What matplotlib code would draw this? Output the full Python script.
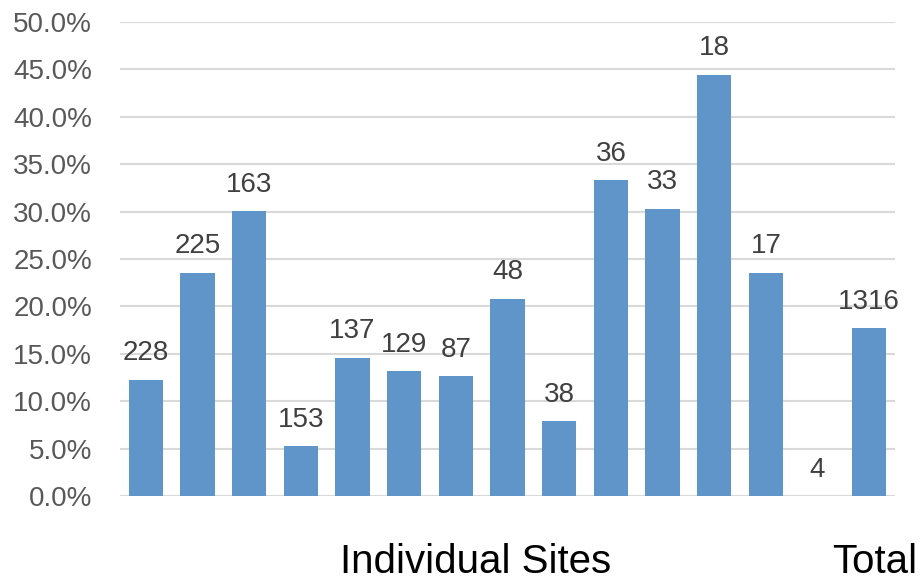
import matplotlib
matplotlib.use("Agg")
import matplotlib.pyplot as plt
from matplotlib.ticker import PercentFormatter

# share of each site, plus the pooled total
sites = ["1", "2", "3", "4", "5", "6", "7", "8", "9", "10", "11", "12", "13", "14", "Total"]
counts = [228, 225, 163, 153, 137, 129, 87, 48, 38, 36, 33, 18, 17, 4, 1316]
rates = [0.1228, 0.2356, 0.3006, 0.0523, 0.1460, 0.1318, 0.1264, 0.2083,
         0.0789, 0.3333, 0.3030, 0.4444, 0.2353, 0.0, 0.1771]

plt.rcParams['font.family'] = ['Liberation Sans', 'DejaVu Sans']

fig = plt.figure(figsize=(9.24, 5.84), dpi=100)
ax = fig.add_axes([120/924, 1-496/584, 775/924, 474/584])

x = list(range(len(sites)))
bars = ax.bar(x, rates, width=0.66, color="#5F95C8", zorder=3)

for xi, r, n in zip(x, rates, counts):
    ax.annotate(str(n), (xi, r), xytext=(0, 14), textcoords="offset points",
                ha="center", va="baseline", fontsize=20, color="#404040")

ax.set_xlim(-0.5, len(sites) - 0.5)
ax.set_ylim(0, 0.5)
ax.set_yticks([i * 0.05 for i in range(11)])
ax.yaxis.set_major_formatter(PercentFormatter(1.0, decimals=1))
ax.tick_params(axis='y', length=0, pad=20, labelsize=20, labelcolor="#595959")
ax.set_xticks([])
ax.grid(axis='y', color="#D9D9D9", linewidth=1.5, zorder=0)
for s in ax.spines.values():
    s.set_visible(False)

# group captions under the bars
ax.text(6.39, -0.163, "Individual Sites", transform=ax.get_xaxis_transform(),
        ha="center", va="baseline", fontsize=29, color="black")
ax.text(14.11, -0.163, "Total", transform=ax.get_xaxis_transform(),
        ha="center", va="baseline", fontsize=29, color="black")

fig.savefig("out.png", dpi=100)
